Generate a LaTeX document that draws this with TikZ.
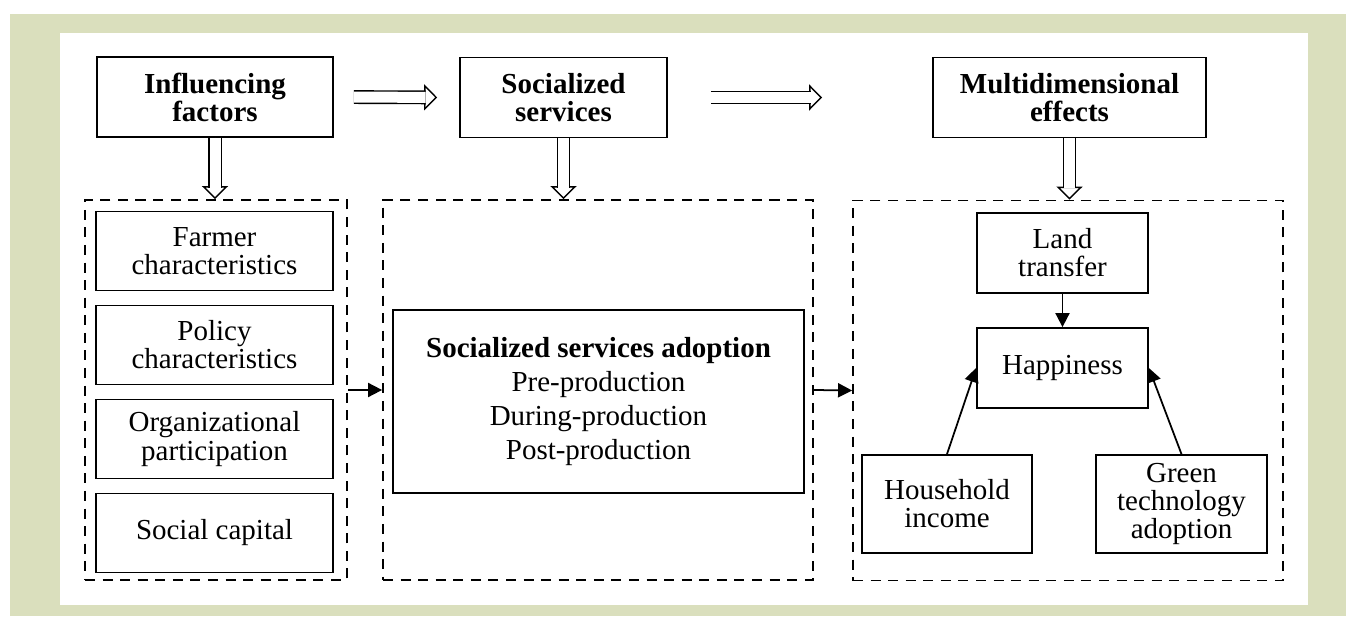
\documentclass[tikz,border=0pt]{standalone}
\usepackage{fontspec}
\setmainfont{Liberation Serif}
\usepackage{xcolor}
\usetikzlibrary{positioning, arrows.meta}
\definecolor{frame}{RGB}{218,223,189}

\begin{document}
\begin{tikzpicture}[
% Box styles
    headbox/.style={rectangle,draw,line width=1pt,
		font=\fontsize{16.5}{16}\selectfont\bfseries,
		align=center,minimum height=1.6cm,inner sep=2pt},
    itembox/.style={rectangle,draw,line width=1pt,
		font=\fontsize{16.5}{16}\selectfont,align=center,
		minimum width=4.74cm,minimum height=1.58cm,inner sep=2pt},
    groupbox/.style={rectangle,draw,line width=1pt,
		dash pattern=on 5.7pt off 4.3pt,
		minimum width=8.6cm,minimum height=7.6cm},
% Hollow arrow: head first, then the shaft over it
    head/.style={white,line width=0.8pt,
		-{Triangle[open,color=black,fill=white,length=2.6mm,width=5.2mm,line width=0.8pt]}},
    shaft/.style={double,double distance=2.2mm,line width=0.8pt,shorten >=2.3mm},
% Plain arrow style
    link/.style={line width=1pt,-{Triangle[length=8pt,width=8pt]}},
    node distance=0.265cm
    ]
%% Frame and page
    \useasboundingbox (0,0) rectangle (26.92,12.32);
    \fill [frame] (0.2,0) rectangle (26.92,12.04);
    \fill [white] (1.2,0.22) rectangle (26.16,11.66);
%% Top row
    \node (inf) [headbox,minimum width=4.72cm] at (4.30,10.38) {Influencing\\factors};
    \node (soc) [headbox,minimum width=4.14cm] at (11.27,10.37) {Socialized\\services};
    \node (mul) [headbox,minimum width=5.46cm] at (21.39,10.37) {Multidimensional\\effects};
%% Dashed groups
    \node (dl) [groupbox,minimum width=5.24cm] at (4.32,4.52) {};
    \node (dm) [groupbox] at (11.96,4.52) {};
    \node (dr) [groupbox] at (21.36,4.51) {};
%% Influencing factors
    \node (fc) [itembox] at (4.29,7.30) {Farmer\\characteristics};
    \node (pc) [itembox,below=of fc] {Policy\\characteristics};
    \node (op) [itembox,below=of pc] {Organizational\\participation};
    \node (sc) [itembox,below=of op] {Social capital};
%% Service adoption
    \node (ssa) [itembox,minimum width=8.22cm,minimum height=3.66cm,
		font=\fontsize{16.5}{19.5}\selectfont] at (11.97,4.29)
		{\textbf{Socialized services adoption}\\Pre-production\\During-production\\Post-production};
%% Effects
    \node (lt)  [itembox,minimum width=3.42cm,minimum height=1.6cm] at (21.25,7.26) {Land\\transfer};
    \node (hap) [itembox,minimum width=3.42cm,minimum height=1.6cm] at (21.25,4.96) {Happiness};
    \node (hi)  [itembox,minimum width=3.40cm,minimum height=1.96cm] at (18.94,2.24) {Household\\income};
    \node (gt)  [itembox,minimum width=3.42cm,minimum height=1.96cm] at (23.63,2.24) {Green\\technology\\adoption};
%% Hollow arrows
    \draw [head,shorten <=0.4cm,shorten >=0.44cm] (inf.east) -- (soc.west);
    \draw [shaft,shorten <=0.4cm,shorten >=0.67cm] (inf.east) -- (soc.west);
    \draw [head,shorten <=0.86cm,shorten >=2.2cm] (soc.east) -- (mul.west);
    \draw [shaft,shorten <=0.86cm,shorten >=2.43cm] (soc.east) -- (mul.west);
    \draw [head]  (inf.south) -- (inf.south |- dl.north);
    \draw [shaft] (inf.south) -- (inf.south |- dl.north);
    \draw [head]  (soc.south) -- (soc.south |- dm.north);
    \draw [shaft] (soc.south) -- (soc.south |- dm.north);
    \draw [head]  (mul.south) -- (mul.south |- dr.north);
    \draw [shaft] (mul.south) -- (mul.south |- dr.north);
%% Links
    \draw [link] (dl.east) -- (dm.west);
    \draw [link] (dm.east) -- (dr.west);
    \draw [link] (lt) -- (hap);
    \draw [link] (hi.north) -- (hap.west);
    \draw [link] (gt.north) -- (hap.east);
\end{tikzpicture}
\end{document}
